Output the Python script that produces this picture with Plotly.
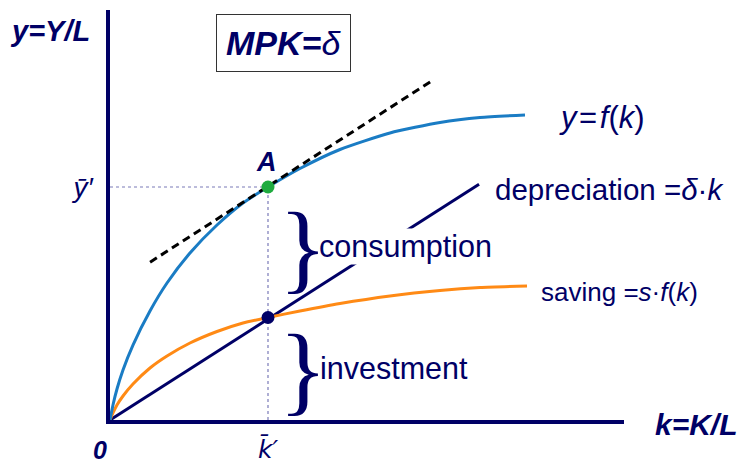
import plotly.graph_objects as go

# ---- data (k units on x, y units on y) ----
f_k = [0, 0.058, 0.136, 0.253, 0.447, 0.778, 1.109, 1.556, 2.082, 2.588, 3.074,
       3.696, 4.475, 5.447, 6.420, 7.198, 8.074]
f_y = [0, 0.293, 0.605, 0.976, 1.463, 2.127, 2.673, 3.259, 3.805, 4.234, 4.546,
       4.907, 5.278, 5.600, 5.805, 5.902, 5.951]

s_k = [0, 0.058, 0.136, 0.253, 0.447, 0.778, 1.109, 1.556, 2.082, 2.588, 3.074,
       3.696, 4.475, 5.447, 6.420, 7.198, 8.113]
s_y = [0, 0.137, 0.293, 0.468, 0.702, 1.015, 1.249, 1.502, 1.727, 1.893, 2.000,
       2.127, 2.273, 2.420, 2.527, 2.585, 2.615]

dep_k = [0, 7.18]
dep_y = [0, 4.60]

tan_k = [0.78, 6.28]
tan_y = [3.08, 6.63]

k_star = 3.074
y_star = 4.546
i_star = 2.000

x_range = [0, 10]
y_range = [0, 8]

NAVY = "#000066"
BLUE = "#1a7cc4"
ORANGE = "#ff8a15"
GREEN = "#1fab3f"
FONT = "Liberation Sans"

fig = go.Figure()

# dotted guide lines
fig.add_trace(go.Scatter(x=[0, k_star], y=[y_star, y_star], mode="lines",
                         line=dict(color="#7a7ab8", width=1.2, dash="dot"), hoverinfo="skip"))
fig.add_trace(go.Scatter(x=[k_star, k_star], y=[0, y_star], mode="lines",
                         line=dict(color="#7a7ab8", width=1.2, dash="dot"), hoverinfo="skip"))

# depreciation line
fig.add_trace(go.Scatter(x=dep_k, y=dep_y, mode="lines", line=dict(color=NAVY, width=3)))
# saving curve
fig.add_trace(go.Scatter(x=s_k, y=s_y, mode="lines", line=dict(color=ORANGE, width=3, shape="spline", smoothing=0.6)))
# production function
fig.add_trace(go.Scatter(x=f_k, y=f_y, mode="lines", line=dict(color=BLUE, width=3, shape="spline", smoothing=0.6)))
# tangent
fig.add_trace(go.Scatter(x=tan_k, y=tan_y, mode="lines", line=dict(color="black", width=3, dash="8px,5px")))
# points
fig.add_trace(go.Scatter(x=[k_star], y=[i_star], mode="markers", marker=dict(color=NAVY, size=13)))
fig.add_trace(go.Scatter(x=[k_star], y=[y_star], mode="markers", marker=dict(color=GREEN, size=13)))

def ann(text, x, y, size, xanchor="center", yanchor="middle", ref="x", **kw):
    fig.add_annotation(text=text, x=x, y=y,
                       xref="paper" if ref == "paper" else "x",
                       yref="paper" if ref == "paper" else "y",
                       showarrow=False, xanchor=xanchor, yanchor=yanchor,
                       font=dict(family=kw.pop("family", FONT), size=size,
                                 color=kw.pop("color", NAVY)), **kw)

ann("<i>y</i>\u200a=\u200a<i>f</i>(<i>k</i>)", 8.70, 5.91, 31, xanchor="left")
ann("depreciation =<i>δ</i>·<i>k</i>", 7.45, 4.49, 29.5, xanchor="left")
ann("consumption", 4.05, 3.38, 30.5, xanchor="left", bgcolor="white", borderpad=0)
ann("investment", 4.05, 1.01, 30.5, xanchor="left")
ann("saving =<i>s</i>·<i>f</i>(<i>k</i>)", 8.35, 2.50, 26, xanchor="left")
ann("<b><i>A</i></b>", 3.05, 5.03, 27)
ann("<b><i>MPK=</i></b><i>δ</i>", 3.37, 7.36, 34, bordercolor="#333333", borderwidth=1,
    borderpad=9, bgcolor="white")
ann("<b><i>0</i></b>", -0.0195, -0.073, 25, ref="paper")
ann("<b><i>y=Y/L</i></b>", -0.1167, 0.949, 29, ref="paper")
ann("<b><i>k=K/L</i></b>", 1.142, -0.0098, 30, ref="paper")

# braces
for yc in [3.36, 0.98]:
    ann("}", 3.75, yc, 100, family="Liberation Serif")

fig.update_layout(
    width=741, height=466,
    margin=dict(l=110, r=117, t=10, b=46, autoexpand=False),
    paper_bgcolor="white", plot_bgcolor="white",
    showlegend=False,
    xaxis=dict(range=x_range, showgrid=False, zeroline=False, showline=True,
               linecolor=NAVY, linewidth=3.5, ticks="", automargin=False,
               tickvals=[k_star], ticktext=["<i>k̄′</i>"],
               tickfont=dict(family="DejaVu Sans", size=25, color=NAVY), ticklabelstandoff=4),
    yaxis=dict(range=y_range, showgrid=False, zeroline=False, showline=True,
               linecolor=NAVY, linewidth=3.5, ticks="", automargin=False,
               tickvals=[y_star], ticktext=["<i>ȳ′</i>"],
               tickfont=dict(family=FONT, size=28, color=NAVY), ticklabelstandoff=8),
)

fig.write_html("out.html", config={"displayModeBar": False},
               post_script="document.body.style.margin='0';document.body.style.overflow='hidden';")
